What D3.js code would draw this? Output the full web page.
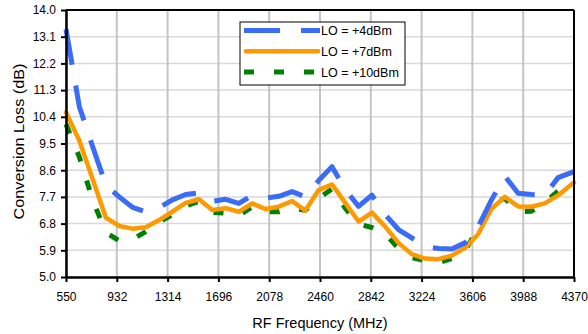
<!DOCTYPE html>
<html>
<head>
<meta charset="utf-8">
<script src="https://cdn.jsdelivr.net/npm/d3@7"></script>
<style>
  body { margin: 0; background: #fff; }
  text { font-family: "Liberation Sans", Arial, sans-serif; fill: #000; }
</style>
</head>
<body>
<div id="chart"></div>
<script>
// RF frequency (MHz) and conversion loss (dB) per LO drive
const freqs = [550, 650, 750, 850, 950, 1050, 1150, 1250, 1350, 1450, 1550, 1650, 1750, 1850, 1950,
  2050, 2150, 2250, 2350, 2450, 2550, 2650, 2750, 2850, 2950, 3050, 3150, 3250, 3350, 3450,
  3550, 3650, 3750, 3850, 3950, 4050, 4150, 4250, 4350, 4370];

const lo4 = [13.35, 10.75, 9.4, 8.1, 7.7, 7.35, 7.2, 7.33, 7.6, 7.78, 7.84, 7.55, 7.62, 7.48, 7.75,
  7.66, 7.72, 7.88, 7.7, 8.25, 8.72, 7.95, 7.38, 7.76, 7.1, 6.6, 6.32, 6.03, 5.96, 5.94,
  6.15, 6.7, 7.6, 8.4, 7.82, 7.78, 7.76, 8.35, 8.52, 8.55];

const lo7 = [10.55, 9.6, 8.3, 7.0, 6.72, 6.63, 6.68, 6.92, 7.2, 7.5, 7.62, 7.26, 7.32, 7.2, 7.48,
  7.29, 7.37, 7.56, 7.24, 7.93, 8.12, 7.5, 6.87, 7.17, 6.7, 6.15, 5.77, 5.62, 5.6, 5.72,
  5.98, 6.45, 7.3, 7.7, 7.38, 7.37, 7.48, 7.75, 8.12, 8.18];

const lo10 = [10.15, 9.05, 7.6, 6.5, 6.22, 6.27, 6.53, 6.85, 7.1, 7.4, 7.55, 7.18, 7.15, 7.07, 7.37,
  7.2, 7.2, 7.32, 7.25, 7.65, 7.97, 7.32, 6.78, 6.67, 6.45, 5.97, 5.65, 5.55, 5.48, 5.62,
  5.88, 6.65, 7.5, 7.65, 7.2, 7.22, 7.5, 7.9, 8.12, 8.16];

const xTicks = [550, 932, 1314, 1696, 2078, 2460, 2842, 3224, 3606, 3988, 4370];
const yTicks = [5.0, 5.9, 6.8, 7.7, 8.6, 9.5, 10.4, 11.3, 12.2, 13.1, 14.0];

const seriesNames = ['LO = +4dBm', 'LO = +7dBm', 'LO = +10dBm'];

const W = 588, H = 334;
const margin = { top: 10, right: 14, bottom: 57, left: 66 };
const width = W - margin.left - margin.right;
const height = H - margin.top - margin.bottom;

const svg = d3.select('#chart')
  .append('svg')
  .attr('width', W)
  .attr('height', H);

const g = svg.append('g')
  .attr('transform', `translate(${margin.left}, ${margin.top})`);

const x = d3.scaleLinear().domain([550, 4370]).range([0, width]);
const y = d3.scaleLinear().domain([5, 14]).range([height, 0]);

// gridlines
g.selectAll('.hgrid')
  .data(yTicks)
  .enter()
  .append('line')
  .attr('x1', 0).attr('x2', width)
  .attr('y1', d => y(d)).attr('y2', d => y(d))
  .attr('stroke', '#d9d9d9')
  .attr('stroke-width', 1.5);

g.selectAll('.vgrid')
  .data(xTicks)
  .enter()
  .append('line')
  .attr('x1', d => x(d)).attr('x2', d => x(d))
  .attr('y1', 0).attr('y2', height)
  .attr('stroke', '#c4c4c4')
  .attr('stroke-width', 2);

// series
const series = [
  { name: seriesNames[0], values: lo4, color: '#3a6cf6', dash: '36,21', width: 5, cap: 'butt' },
  { name: seriesNames[1], values: lo7, color: '#ff9900', dash: null, width: 4.5, cap: 'round' },
  { name: seriesNames[2], values: lo10, color: '#008000', dash: '10,20', width: 5, cap: 'butt' }
];

const line = d3.line()
  .x(d => x(d[0]))
  .y(d => y(d[1]));

// green first, then orange, blue on top
[series[2], series[1], series[0]].forEach(s => {
  g.append('path')
    .datum(freqs.map((f, i) => [f, s.values[i]]))
    .attr('fill', 'none')
    .attr('stroke', s.color)
    .attr('stroke-width', s.width)
    .attr('stroke-linecap', s.cap)
    .attr('stroke-linejoin', 'round')
    .attr('stroke-dasharray', s.dash)
    .attr('d', line);
});

// frame
g.append('line').attr('x1', 0).attr('x2', width).attr('y1', 0).attr('y2', 0)
  .attr('stroke', '#000').attr('stroke-width', 2);
g.append('line').attr('x1', width).attr('x2', width).attr('y1', 0).attr('y2', height)
  .attr('stroke', '#000').attr('stroke-width', 2);

// axes
const xAxis = g.append('g')
  .attr('transform', `translate(0, ${height})`)
  .call(d3.axisBottom(x).tickValues(xTicks).tickFormat(d3.format('d')).tickSizeInner(5).tickSizeOuter(0).tickPadding(10));

const yAxis = g.append('g')
  .call(d3.axisLeft(y).tickValues(yTicks).tickFormat(d3.format('.1f')).tickSizeInner(5).tickSizeOuter(0).tickPadding(5));

[xAxis, yAxis].forEach(a => {
  a.select('.domain').attr('stroke', '#000').attr('stroke-width', 2.5);
  a.selectAll('.tick line').attr('stroke', '#000').attr('stroke-width', 2);
  a.selectAll('.tick text')
    .style('font-family', '"Liberation Sans", Arial, sans-serif')
    .style('font-size', '12px')
    .attr('fill', '#000');
});

// axis titles
svg.append('text')
  .attr('x', margin.left + width / 2)
  .attr('y', 328)
  .attr('text-anchor', 'middle')
  .style('font-size', '14.5px')
  .text('RF Frequency (MHz)');

// the picture is stretched a little vertically, so lengthen the rotated title
svg.append('text')
  .attr('transform', `translate(24, ${margin.top + height / 2 - 2}) rotate(-90) scale(1.12, 1)`)
  .attr('text-anchor', 'middle')
  .style('font-size', '14.5px')
  .text('Conversion Loss (dB)');

// legend
const legend = svg.append('g').attr('transform', 'translate(240, 22)');
legend.append('rect')
  .attr('x', 0).attr('y', 0)
  .attr('width', 165).attr('height', 63)
  .attr('fill', '#fff')
  .attr('stroke', '#000')
  .attr('stroke-width', 1);

series.forEach((s, i) => {
  const ly = 8.5 + i * 20.8;
  legend.append('line')
    .attr('x1', s.cap === 'round' ? 6 : 4).attr('x2', s.cap === 'round' ? 78 : 80)
    .attr('y1', ly).attr('y2', ly)
    .attr('stroke', s.color)
    .attr('stroke-width', s.width)
    .attr('stroke-linecap', s.cap)
    .attr('stroke-dasharray', s.dash);
  legend.append('text')
    .attr('x', 81)
    .attr('y', ly + 4.5)
    .style('font-size', '12.5px')
    .text(s.name);
});
</script>
</body>
</html>
